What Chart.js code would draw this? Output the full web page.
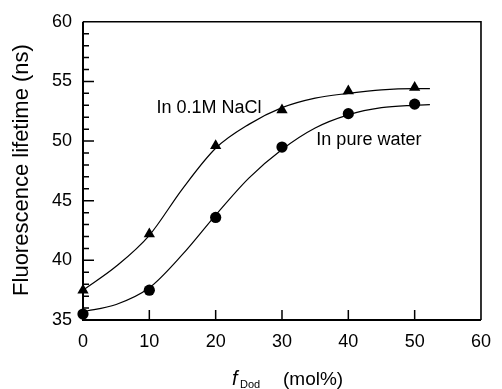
<!DOCTYPE html>
<html>
<head>
<meta charset="utf-8">
<script src="https://cdn.jsdelivr.net/npm/chart.js@4/dist/chart.umd.min.js"></script>
<style>
html,body{margin:0;padding:0;background:#fff;}
#wrap{width:502px;height:389px;position:relative;}
</style>
</head>
<body>
<div id="wrap"><canvas id="c" width="502" height="389"></canvas></div>
<script>
// measured data points
const fDod = [0, 10, 20, 30, 40, 50];
const naclLifetime = [37.5, 42.2, 49.6, 52.6, 54.2, 54.5];
const waterLifetime = [35.5, 37.5, 43.6, 49.5, 52.3, 53.1];
// fitted curves
const curveX = [0, 5, 10, 15, 20, 25, 30, 35, 40, 45, 50, 52.3];
const naclCurve = [37.5, 39.5, 42.1, 46.0, 49.4, 51.4, 52.8, 53.6, 54.0, 54.3, 54.4, 54.4];
const waterCurve = [35.7, 36.3, 37.7, 40.5, 43.8, 46.9, 49.3, 51.1, 52.2, 52.8, 53.0, 53.05];
// axis ticks
const xTicks = [0, 10, 20, 30, 40, 50, 60];
const yTicks = [35, 40, 45, 50, 55, 60];
const labels = [
  {text: 'In 0.1M NaCl', x: 19.0, y: 52.8},
  {text: 'In pure water', x: 43.1, y: 50.05}
];

const FONT = '"Liberation Sans", Arial, Helvetica, sans-serif';
const pts = (xs, ys) => xs.map((x, i) => ({x, y: ys[i]}));

const framePlugin = {
  id: 'frame',
  afterDraw(chart) {
    const ctx = chart.ctx;
    const a = chart.chartArea;
    const xs = chart.scales.x, ys = chart.scales.y;
    ctx.save();
    ctx.strokeStyle = '#000';
    ctx.lineWidth = 1.6;
    ctx.beginPath();
    ctx.moveTo(a.left, a.top); ctx.lineTo(a.right, a.top); ctx.lineTo(a.right, a.bottom);
    ctx.stroke();
    ctx.lineWidth = 2;
    ctx.beginPath();
    ctx.moveTo(a.left, a.top); ctx.lineTo(a.left, a.bottom); ctx.lineTo(a.right, a.bottom);
    ctx.stroke();
    ctx.lineWidth = 1.5;
    ctx.beginPath();
    for (let v = ys.min + 1; v < ys.max; v++) {
      const py = ys.getPixelForValue(v);
      const len = (v % 5 === 0) ? 11 : 6;
      ctx.moveTo(a.left, py); ctx.lineTo(a.left + len, py);
    }
    for (let v = xs.min + 10; v < xs.max; v += 10) {
      const px = xs.getPixelForValue(v);
      ctx.moveTo(px, a.bottom); ctx.lineTo(px, a.bottom - 10);
    }
    ctx.stroke();
    ctx.fillStyle = '#000';
    ctx.font = '18px ' + FONT;
    ctx.textAlign = 'center';
    ctx.textBaseline = 'middle';
    labels.forEach(l => ctx.fillText(l.text, xs.getPixelForValue(l.x), ys.getPixelForValue(l.y)));
    ctx.save();
    ctx.translate(22, 170);
    ctx.rotate(-Math.PI / 2);
    ctx.font = '22px ' + FONT;
    ctx.fillText('Fluorescence lifetime (ns)', 0, 0);
    ctx.restore();
    ctx.textAlign = 'left';
    ctx.textBaseline = 'alphabetic';
    const baseY = 385;
    ctx.font = 'italic 20px ' + FONT;
    ctx.fillText('f', 232, baseY);
    ctx.font = '11px ' + FONT;
    ctx.fillText('Dod', 240, baseY + 3);
    ctx.font = '19px ' + FONT;
    ctx.fillText('(mol%)', 283, baseY);
    ctx.restore();
  }
};

new Chart(document.getElementById('c'), {
  type: 'scatter',
  data: {
    datasets: [
      {data: pts(curveX, naclCurve), showLine: true, borderColor: '#000', borderWidth: 1.2, pointRadius: 0, cubicInterpolationMode: 'monotone', fill: false},
      {data: pts(curveX, waterCurve), showLine: true, borderColor: '#000', borderWidth: 1.2, pointRadius: 0, cubicInterpolationMode: 'monotone', fill: false},
      {data: pts(fDod, naclLifetime), pointStyle: 'triangle', pointRadius: 6.5, backgroundColor: '#000', borderColor: '#000', borderWidth: 0},
      {data: pts(fDod, waterLifetime), pointStyle: 'circle', pointRadius: 5.6, backgroundColor: '#000', borderColor: '#000', borderWidth: 0}
    ]
  },
  options: {
    responsive: false,
    animation: false,
    clip: false,
    layout: {padding: {left: 0, top: 21, right: 13, bottom: 0}},
    plugins: {legend: {display: false}, tooltip: {enabled: false}},
    scales: {
      x: {
        type: 'linear', min: 0, max: 60,
        afterBuildTicks: s => { s.ticks = xTicks.map(v => ({value: v})); },
        afterFit: s => { s.height = 69; },
        grid: {display: false, drawTicks: false},
        border: {display: false},
        ticks: {color: '#000', font: {size: 18, family: FONT}, padding: 11, maxRotation: 0}
      },
      y: {
        type: 'linear', min: 35, max: 60,
        afterBuildTicks: s => { s.ticks = yTicks.map(v => ({value: v})); },
        afterFit: s => { s.width = 83; },
        grid: {display: false, drawTicks: false},
        border: {display: false},
        ticks: {color: '#000', font: {size: 18, family: FONT}, padding: 11}
      }
    }
  },
  plugins: [framePlugin]
});
</script>
</body>
</html>
